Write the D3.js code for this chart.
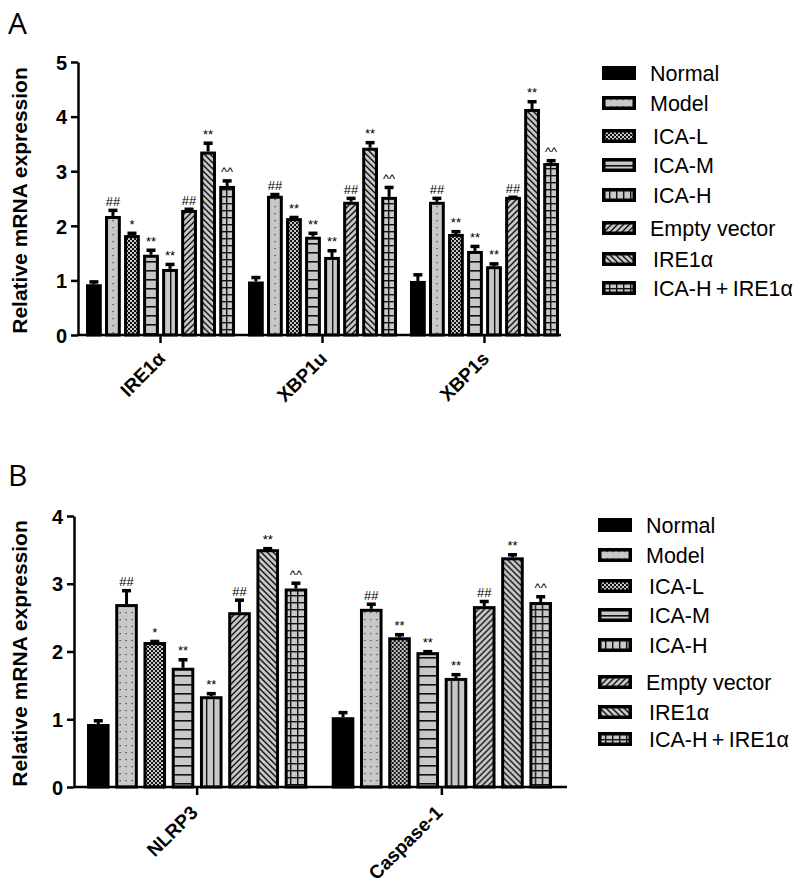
<!DOCTYPE html>
<html>
<head>
<meta charset="utf-8">
<script src="https://cdn.jsdelivr.net/npm/d3@7"></script>
<style>
  body { margin: 0; background: #fff; }
  svg { display: block; }
  .tick text { font-family: "Liberation Sans", Arial, sans-serif; font-weight: bold; }
</style>
</head>
<body>
<div id="chart"></div>
<script>
// groups (legend order)
const groups = ["Normal", "Model", "ICA-L", "ICA-M", "ICA-H", "Empty vector", "IRE1α", "ICA-H\u2009+\u2009IRE1α"];
const patterns = ["solid", "dots", "check", "hlines", "vlines", "diagUp", "diagDown", "grid"];

// panel A
const genesA = ["IRE1α", "XBP1u", "XBP1s"];
const meansA = [
  [0.93, 2.18, 1.83, 1.47, 1.21, 2.29, 3.36, 2.73],
  [0.98, 2.55, 2.14, 1.80, 1.43, 2.44, 3.43, 2.53],
  [0.99, 2.44, 1.85, 1.54, 1.26, 2.53, 4.14, 3.15]
];
const errsA = [
  [0.07, 0.13, 0.06, 0.11, 0.11, 0.04, 0.18, 0.12],
  [0.10, 0.05, 0.04, 0.09, 0.14, 0.09, 0.12, 0.20],
  [0.14, 0.09, 0.07, 0.11, 0.07, 0.02, 0.16, 0.07]
];
const marksA = [
  ["", "##", "*", "**", "**", "##", "**", "^^"],
  ["", "##", "**", "**", "**", "##", "**", "^^"],
  ["", "##", "**", "**", "**", "##", "**", "^^"]
];
const ticksA = [0, 1, 2, 3, 4, 5];

// panel B
const genesB = ["NLRP3", "Caspase-1"];
const meansB = [
  [0.93, 2.70, 2.14, 1.76, 1.34, 2.58, 3.51, 2.93],
  [1.03, 2.63, 2.21, 1.99, 1.61, 2.67, 3.39, 2.73]
];
const errsB = [
  [0.07, 0.22, 0.03, 0.14, 0.06, 0.20, 0.03, 0.10],
  [0.09, 0.09, 0.06, 0.03, 0.07, 0.09, 0.06, 0.10]
];
const marksB = [
  ["", "##", "*", "**", "**", "##", "**", "^^"],
  ["", "##", "**", "**", "**", "##", "**", "^^"]
];
const ticksB = [0, 1, 2, 3, 4];

const width = 800, height = 885;
const gray = "#c8c8c8";

const svg = d3.select("#chart").append("svg")
    .attr("width", width)
    .attr("height", height);

const defs = svg.append("defs");

function makePattern(id, size, draw) {
  let p = defs.append("pattern")
      .attr("id", id)
      .attr("patternUnits", "userSpaceOnUse")
      .attr("width", size[0])
      .attr("height", size[1]);
  p.append("rect").attr("width", size[0]).attr("height", size[1]).attr("fill", gray);
  draw(p);
}

makePattern("dots", [6, 7], p => {
  p.append("rect").attr("x", 2.5).attr("y", 3).attr("width", 1.2).attr("height", 1.2).attr("fill", "#333");
});
makePattern("check", [4, 4], p => {
  p.append("rect").attr("width", 4).attr("height", 4).attr("fill", "#111");
  p.append("rect").attr("x", 0).attr("y", 0).attr("width", 2).attr("height", 2).attr("fill", gray);
  p.append("rect").attr("x", 2).attr("y", 2).attr("width", 2).attr("height", 2).attr("fill", gray);
});
makePattern("hlines", [8, 9], p => {
  p.append("rect").attr("x", 0).attr("y", 0).attr("width", 8).attr("height", 1.6).attr("fill", "#111");
});
makePattern("vlines", [7, 8], p => {
  p.append("rect").attr("x", 0).attr("y", 0).attr("width", 1.4).attr("height", 8).attr("fill", "#111");
});
makePattern("diagUp", [6, 6], p => {
  p.append("path").attr("d", "M-1,7 L7,-1 M-4,4 L4,-4 M2,10 L10,2")
      .attr("stroke", "#111").attr("stroke-width", 1.4);
});
makePattern("diagDown", [6, 6], p => {
  p.append("path").attr("d", "M-1,-1 L7,7 M-4,2 L2,8 M2,-4 L8,2")
      .attr("stroke", "#111").attr("stroke-width", 1.4);
});
makePattern("grid", [7, 7], p => {
  p.append("rect").attr("x", 0).attr("y", 0).attr("width", 7).attr("height", 1.4).attr("fill", "#111");
  p.append("rect").attr("x", 0).attr("y", 0).attr("width", 1.4).attr("height", 7).attr("fill", "#111");
});

function fillFor(i) {
  return patterns[i] == "solid" ? "#000" : `url(#${patterns[i]})`;
}

function drawPanel(opt) {
  let g = svg.append("g");

  // panel letter
  g.append("text")
      .attr("x", 8).attr("y", opt.letterY)
      .attr("font-family", "'Open Sans', sans-serif")
      .attr("font-size", 30)
      .text(opt.letter);

  let y = d3.scaleLinear().domain([0, d3.max(opt.ticks)]).range([opt.y0, opt.y1]);
  let x0 = d3.scaleBand().domain(opt.genes).range(opt.xRange).paddingInner(opt.groupPad);
  let x1 = d3.scaleBand().domain(d3.range(groups.length)).range([0, x0.bandwidth()]).paddingInner(opt.barPad);

  // y axis
  let yAxis = g.append("g")
      .attr("transform", `translate(${opt.axisX},0)`)
      .call(d3.axisLeft(y).tickValues(opt.ticks).tickFormat(d3.format("d")).tickSize(7).tickSizeOuter(0));
  yAxis.selectAll("path, line").attr("stroke", "#000").attr("stroke-width", 2.5);
  yAxis.selectAll("text").attr("font-size", 20).attr("fill", "#000").attr("dx", -1).attr("dy", "0.36em");

  // y title
  g.append("text")
      .attr("transform", `translate(27,${(opt.y0 + opt.y1) / 2 + 2}) rotate(-90)`)
      .attr("text-anchor", "middle")
      .attr("font-family", "'Liberation Sans', Arial, sans-serif")
      .attr("font-weight", "bold")
      .attr("font-size", 21)
      .text("Relative mRNA expression");

  // bars
  let gene = g.selectAll(".gene")
    .data(opt.genes)
    .enter().append("g")
      .attr("class", "gene")
      .attr("transform", d => `translate(${x0(d)},0)`);

  let rows = (gi) => groups.map((name, i) => ({
    i: i, v: opt.means[gi][i], e: opt.errs[gi][i], m: opt.marks[gi][i]
  }));

  let bar = gene.selectAll(".bar")
    .data((d, gi) => rows(gi))
    .enter().append("g")
      .attr("class", "bar");

  let sw = 3;
  // error bars (upward only)
  bar.append("line")
      .attr("x1", d => x1(d.i) + x1.bandwidth() / 2)
      .attr("x2", d => x1(d.i) + x1.bandwidth() / 2)
      .attr("y1", d => y(d.v))
      .attr("y2", d => y(d.v + d.e) + 1.5)
      .attr("stroke", "#000").attr("stroke-width", 3);
  bar.append("line")
      .attr("x1", d => x1(d.i) + x1.bandwidth() / 2 - 4.5)
      .attr("x2", d => x1(d.i) + x1.bandwidth() / 2 + 4.5)
      .attr("y1", d => y(d.v + d.e) + 1.5)
      .attr("y2", d => y(d.v + d.e) + 1.5)
      .attr("stroke", "#000").attr("stroke-width", 3.5);

  bar.append("rect")
      .attr("x", d => x1(d.i) + sw / 2)
      .attr("y", d => y(d.v) + sw / 2)
      .attr("width", x1.bandwidth() - sw)
      .attr("height", d => y(0) - y(d.v) - sw / 2)
      .attr("fill", d => fillFor(d.i))
      .attr("stroke", "#000")
      .attr("stroke-width", sw);

  bar.append("text")
      .attr("x", d => x1(d.i) + x1.bandwidth() / 2)
      .attr("y", d => y(d.v + d.e) - 3)
      .attr("text-anchor", "middle")
      .attr("font-family", "'Liberation Sans', Arial, sans-serif")
      .attr("font-size", 13)
      .text(d => d.m);

  // x axis
  g.append("line")
      .attr("x1", opt.axisX).attr("x2", opt.xEnd)
      .attr("y1", y(0)).attr("y2", y(0))
      .attr("stroke", "#000").attr("stroke-width", 2.5);
  let xAxis = g.append("g")
      .attr("transform", `translate(0,${y(0)})`)
      .call(d3.axisBottom(x0).tickSize(8).tickSizeOuter(0));
  xAxis.select(".domain").remove();
  xAxis.selectAll("line").attr("stroke", "#000").attr("stroke-width", 2.5);
  xAxis.selectAll("text")
      .attr("font-size", 19)
      .attr("fill", "#000")
      .attr("text-anchor", "end")
      .attr("dy", 0)
      .attr("transform", `translate(${opt.labelShift[0]},${opt.labelShift[1]}) rotate(-45)`);

  // legend
  let leg = g.selectAll(".leg")
    .data(groups)
    .enter().append("g")
      .attr("class", "leg")
      .attr("transform", (d, i) => `translate(${opt.legX},${opt.legY[i]})`);
  leg.append("rect")
      .attr("x", 0).attr("y", -7)
      .attr("width", 34).attr("height", 14)
      .attr("fill", "#000");
  leg.filter((d, i) => i > 0).append("rect")
      .attr("x", 3.5).attr("y", -3.5)
      .attr("width", 27).attr("height", 7)
      .attr("fill", (d, i) => fillFor(i + 1));
  leg.append("text")
      .attr("x", (d, i) => (i == 0 || i == 1 || i == 5) ? 48 : 51)
      .attr("y", 0)
      .attr("dy", "0.36em")
      .attr("font-family", "'Liberation Sans', Arial, sans-serif")
      .attr("font-size", 21.5)
      .text(d => d);
}

drawPanel({
  letter: "A", letterY: 34,
  genes: genesA, means: meansA, errs: errsA, marks: marksA, ticks: ticksA,
  y0: 335, y1: 62, axisX: 78, xEnd: 561,
  xRange: [86, 559], groupPad: 0.08, barPad: 0.17,
  labelShift: [-2, 17],
  legX: 602, legY: [73, 103, 136, 165, 195, 228, 259, 288]
});

drawPanel({
  letter: "B", letterY: 486,
  genes: genesB, means: meansB, errs: errsB, marks: marksB, ticks: ticksB,
  y0: 787, y1: 516, axisX: 74, xEnd: 567,
  xRange: [87, 552], groupPad: 0.1, barPad: 0.2,
  labelShift: [-6, 19],
  legX: 598, legY: [525, 555, 586, 615, 645, 682, 712, 739]
});
</script>
</body>
</html>
